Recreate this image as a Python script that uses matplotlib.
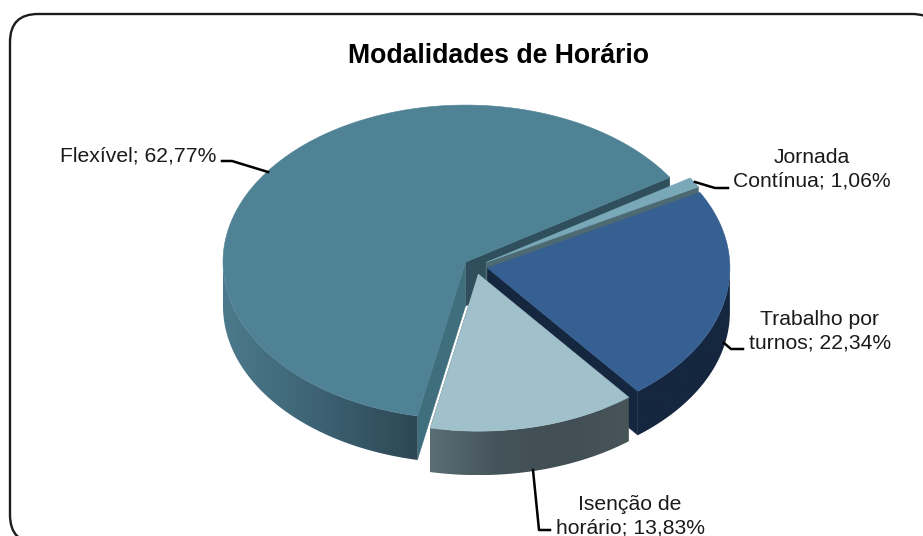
import numpy as np
import matplotlib
matplotlib.use('Agg')
import matplotlib.pyplot as plt
from matplotlib.colors import LinearSegmentedColormap
from matplotlib.patches import FancyBboxPatch, Polygon

plt.rcParams['font.family'] = ['Liberation Sans', 'DejaVu Sans']

# data, clockwise from the cut at the upper right
categories = ['Jornada\nContínua; 1,06%', 'Trabalho por\nturnos; 22,34%',
              'Isenção de\nhorário; 13,83%', 'Flexível; 62,77%']
shares = [1.06, 22.34, 13.83, 62.77]
title = 'Modalidades de Horário'

top_colors = ['#79a8b8', '#365f92', '#a0c0cb', '#508296']
cut_colors = ['#4d6a72', '#15263f', '#46555a', '#2f4f5c']
flex_cut_color = '#3f6e7d'
wall_colors = [['#79a8b8', '#79a8b8'],
               ['#15263f', '#15263f'],
               ['#5a6e74', '#45545a', '#414e54', '#475559'],
               ['#4c7a8c', '#3c6273', '#2d4753']]

# pie geometry, in image pixels
cx, cy = 475.5, 266.5
rx, ry = 242.5, 157
depth = 44
explode = 0.05
start = 32.6


def rim(t, x0, y0):
    return x0 + rx*np.cos(np.radians(t)), y0 - ry*np.sin(np.radians(t))


def cut_face(t, x0, y0, color, z, ax):
    x1, y1 = rim(t, x0, y0)
    ax.add_patch(Polygon([(x0, y0), (x1, y1), (x1, y1 + depth), (x0, y0 + depth)],
                         closed=True, fc=color, ec=color, lw=0.3, zorder=z))


def outer_wall(t1, t2, x0, y0, stops, z, ax):
    # only the part of the rim facing the viewer shows
    lo, hi = max(t2, -180), min(t1, 0)
    if lo >= hi:
        return
    xs, ys = rim(np.linspace(lo, hi, 120), x0, y0)
    outline = list(zip(xs, ys)) + list(zip(xs[::-1], ys[::-1] + depth))
    clip = Polygon(outline, closed=True, transform=ax.transData)
    grad = np.linspace(0, 1, 256).reshape(1, -1)
    cmap = LinearSegmentedColormap.from_list('wall', stops)
    im = ax.imshow(grad, cmap=cmap, aspect='auto', zorder=z, interpolation='bilinear',
                   extent=(xs.min(), xs.max(), ys.max() + depth, ys.min()))
    im.set_clip_path(clip)


fig = plt.figure(figsize=(9.23, 5.36), dpi=100)
ax = fig.add_axes([0, 0, 1, 1])
ax.axis('off')

# chart frame runs past the right and bottom of the image
ax.add_patch(FancyBboxPatch((38, 42), 874, 473, boxstyle='round,pad=28,rounding_size=28',
                            fc='white', ec='#1c1c1c', lw=1.7, zorder=1))

# slice angles from the shares
sweeps = np.array(shares)/sum(shares)*360
ends = start - np.cumsum(sweeps)
starts = ends + sweeps

# Flexível sits behind, the others lie over one another clockwise
z = 2
for i in [3, 0, 1, 2]:
    t1, t2 = starts[i], ends[i]
    mid = (t1 + t2)/2
    x0 = cx + explode*rx*np.cos(np.radians(mid))
    y0 = cy - explode*ry*np.sin(np.radians(mid))
    cut_face(t2, x0, y0, cut_colors[i], z, ax)
    if i == 3:
        cut_face(t1, x0, y0, flex_cut_color, z + 0.1, ax)
    outer_wall(t1, t2, x0, y0, wall_colors[i], z + 0.2, ax)
    xs, ys = rim(np.linspace(t1, t2, 200), x0, y0)
    pts = [(x0, y0)] + list(zip(xs, ys))
    ax.add_patch(Polygon(pts, closed=True, fc=top_colors[i], ec=top_colors[i], lw=0.4, zorder=z + 0.3))
    z += 1

# leader lines
leaders = [([695, 715, 728], [182, 188, 188]),
           ([724, 731, 743], [343, 349, 349]),
           ([533, 539, 550], [470, 530, 530]),
           ([222, 232, 268], [161, 161, 172])]
for lx, ly in leaders:
    ax.plot(lx, ly, color='black', lw=1.8, solid_joinstyle='round', zorder=10)

# labels
label_pos = [(812, 169), (820, 331), (630, 516.5), (138, 156)]
for lab, (tx, ty) in zip(categories, label_pos):
    ax.text(tx, ty, lab, ha='center', va='center', fontsize=15.2, color='#1a1a1a',
            linespacing=1.33, zorder=11)

ax.text(498.5, 56, title, ha='center', va='center', fontsize=19.2, fontweight='bold',
        color='black', zorder=11)

ax.set_xlim(0, 923)
ax.set_ylim(536, 0)
plt.savefig('out.png', dpi=100)
